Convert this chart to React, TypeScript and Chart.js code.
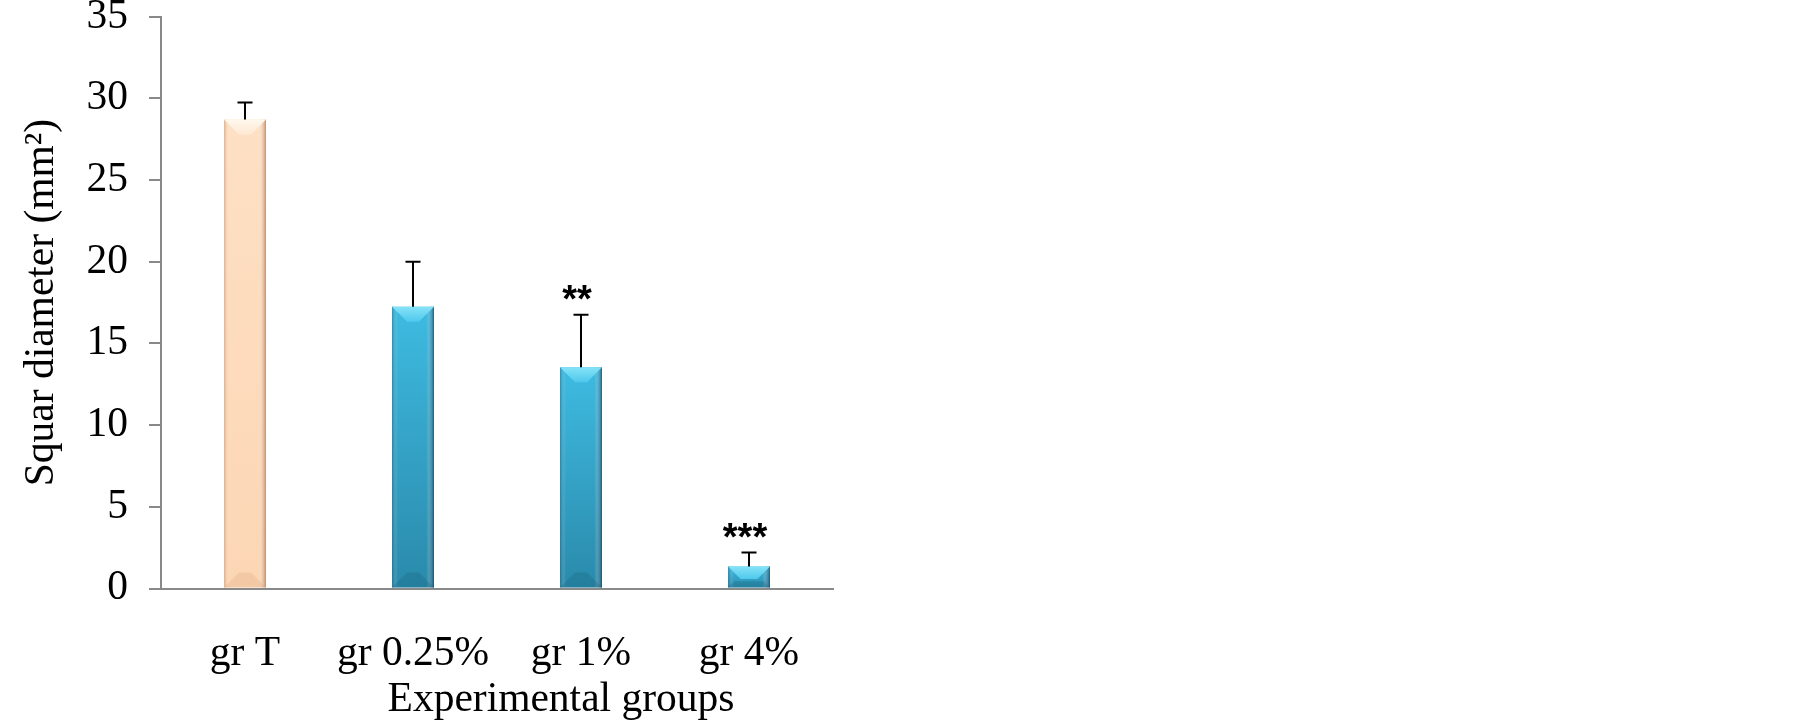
import React, { useEffect, useRef } from 'react';
import { Chart, registerables } from 'chart.js';

Chart.register(...registerables);

// ---- data ----
const categories = ['gr T', 'gr 0.25%', 'gr 1%', 'gr 4%'];
const means = [28.7, 17.25, 13.55, 1.35];
const sdErrors = [1.05, 2.75, 3.2, 0.85];
const significance = ['', '', '**', '***'];
const barPalette = ['peach', 'blue', 'blue', 'blue'];
const yMin = 0;
const yMax = 35;
const yStep = 5;
const yTitle = 'Squar diameter (mm²)';
const xTitle = 'Experimental groups';

// ---- styles ----
const SERIF = '"Liberation Serif", "Times New Roman", serif';
const FONT_SIZE = 41.5;
const AXIS = '#898989';
const PALETTES: Record<string, any> = {
  peach: {
    top: '#FEE0C4',
    bottom: '#FCD6B4',
    edgeL: 'rgba(200,140,100,0.55)',
    edgeR: 'rgba(170,110,70,0.7)',
    bevelTop: ['#FFF8EE', '#FEE8D2'],
    bevelBottom: 'rgba(215,160,120,0.25)',
  },
  blue: {
    top: '#3EBBE1',
    bottom: '#2A8AAB',
    edgeL: 'rgba(20,90,120,0.45)',
    edgeR: 'rgba(10,60,85,0.7)',
    bevelTop: ['#86E3F8', '#4EC8EC'],
    bevelBottom: 'rgba(20,80,105,0.22)',
  },
};

const barFill = (c: any) => {
  const pal = PALETTES[barPalette[c.dataIndex]] || PALETTES.blue;
  const chart = c.chart;
  if (!chart.chartArea || c.type !== 'data') return pal.top;
  const ys = chart.scales.y;
  const top = ys.getPixelForValue(c.raw);
  const bot = ys.getPixelForValue(0);
  if (!isFinite(top) || !isFinite(bot) || bot - top < 1) return pal.top;
  const g = chart.ctx.createLinearGradient(0, top, 0, bot);
  g.addColorStop(0, pal.top);
  g.addColorStop(1, pal.bottom);
  return g;
};

const overlayPlugin = {
  id: 'overlay',
  afterDatasetsDraw(chart: any) {
    const ctx = chart.ctx;
    const ys = chart.scales.y;
    const meta = chart.getDatasetMeta(0);
    meta.data.forEach((bar: any, i: number) => {
      const { x, y, base, width } = bar.getProps(['x', 'y', 'base', 'width'], true);
      const pal = PALETTES[barPalette[i]] || PALETTES.blue;
      const L = x - width / 2;
      const R = x + width / 2;
      const h = base - y;
      ctx.save();
      // side shading
      const g = ctx.createLinearGradient(L, 0, R, 0);
      g.addColorStop(0, pal.edgeL);
      g.addColorStop(0.14, 'rgba(255,255,255,0)');
      g.addColorStop(0.82, 'rgba(255,255,255,0)');
      g.addColorStop(1, pal.edgeR);
      ctx.fillStyle = g;
      ctx.fillRect(L, y, width, h);
      // bottom bevel
      const db = Math.min(width * 0.36, h * 0.3);
      ctx.beginPath();
      ctx.moveTo(L, base);
      ctx.lineTo(R, base);
      ctx.lineTo(R - db, base - db);
      ctx.lineTo(L + db, base - db);
      ctx.closePath();
      ctx.fillStyle = pal.bevelBottom;
      ctx.fill();
      // top bevel
      const d = Math.min(width * 0.36, h * 0.6);
      ctx.beginPath();
      ctx.moveTo(L, y);
      ctx.lineTo(R, y);
      ctx.lineTo(R - d, y + d);
      ctx.lineTo(L + d, y + d);
      ctx.closePath();
      const gt = ctx.createLinearGradient(0, y, 0, y + d);
      gt.addColorStop(0, pal.bevelTop[0]);
      gt.addColorStop(1, pal.bevelTop[1]);
      ctx.fillStyle = gt;
      ctx.fill();
      ctx.restore();

      // error bar
      const yTop = ys.getPixelForValue(means[i] + sdErrors[i]);
      ctx.save();
      ctx.strokeStyle = '#000';
      ctx.lineWidth = 2;
      ctx.beginPath();
      ctx.moveTo(x, y);
      ctx.lineTo(x, yTop);
      ctx.moveTo(x - 7.5, yTop);
      ctx.lineTo(x + 7.5, yTop);
      ctx.stroke();
      // significance
      if (significance[i]) {
        ctx.fillStyle = '#000';
        ctx.font = 'bold 38px "Liberation Sans", Arial, sans-serif';
        ctx.textAlign = 'center';
        ctx.textBaseline = 'middle';
        ctx.fillText(significance[i], x - 4, yTop - 13);
      }
      ctx.restore();
    });
  },
  afterDraw(chart: any) {
    const ctx = chart.ctx;
    const ca = chart.chartArea;
    ctx.save();
    ctx.fillStyle = '#000';
    ctx.font = `${FONT_SIZE}px ${SERIF}`;
    ctx.textAlign = 'center';
    ctx.textBaseline = 'alphabetic';
    ctx.fillText(xTitle, ca.left + ca.width / 2 + 64, ca.bottom + 122);
    ctx.restore();
  },
};

export default function App() {
  const ref = useRef<HTMLCanvasElement | null>(null);

  useEffect(() => {
    if (!ref.current) return;
    const chart = new Chart(ref.current, {
      type: 'bar',
      data: {
        labels: categories,
        datasets: [
          {
            data: means,
            backgroundColor: barFill as any,
            borderWidth: 0,
            barPercentage: 1,
            categoryPercentage: 0.25,
          },
        ],
      },
      options: {
        animation: false,
        responsive: true,
        maintainAspectRatio: false,
        layout: { padding: { top: 16.7, right: 972, left: 0, bottom: 0 } },
        plugins: {
          legend: { display: false },
          tooltip: { enabled: false },
        },
        scales: {
          x: {
            grid: { display: false },
            border: { display: true, color: AXIS, width: 2 },
            ticks: {
              font: { family: SERIF, size: FONT_SIZE },
              color: '#000',
              padding: 33,
              maxRotation: 0,
              autoSkip: false,
            },
            afterFit: (s: any) => {
              s.height = 139.5;
              s.paddingLeft = 0;
              s.paddingRight = 0;
            },
          },
          y: {
            min: yMin,
            max: yMax,
            ticks: {
              stepSize: yStep,
              font: { family: SERIF, size: FONT_SIZE },
              color: '#000',
              padding: 21,
            },
            grid: {
              drawOnChartArea: false,
              drawTicks: true,
              tickLength: 12,
              color: AXIS,
              lineWidth: 2,
            },
            border: { display: true, color: AXIS, width: 2 },
            title: {
              display: true,
              text: yTitle,
              font: { family: SERIF, size: FONT_SIZE },
              color: '#000',
              padding: { top: 17, bottom: 0 },
            },
            afterFit: (s: any) => {
              s.width = 161;
              s.paddingTop = 0;
              s.paddingBottom = 0;
            },
          },
        },
      },
      plugins: [overlayPlugin],
    });
    return () => chart.destroy();
  }, []);

  return (
    <div style={{ position: 'absolute', left: 0, top: 0, width: 1805, height: 728, background: '#fff' }}>
      <canvas ref={ref} />
    </div>
  );
}
